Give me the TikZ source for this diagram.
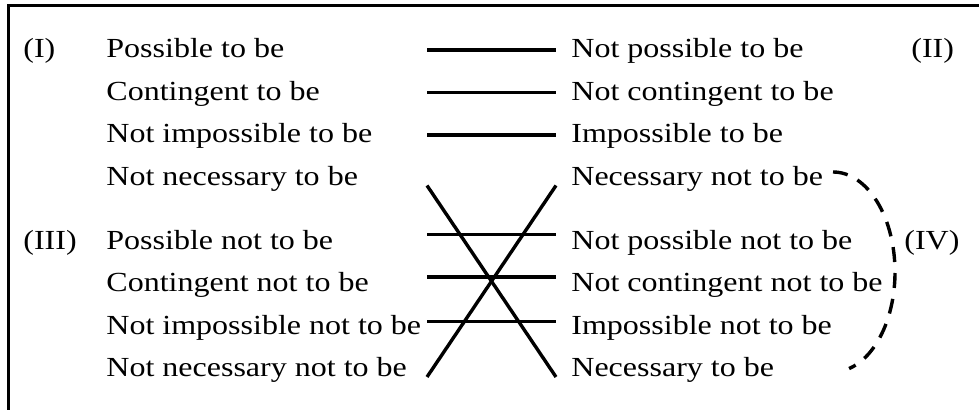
\documentclass[tikz,border=0pt]{standalone}
\usepackage{fontspec}
\setmainfont{Liberation Serif}[FakeStretch=1.16]
\usepackage{tikz}
\usetikzlibrary{positioning,calc}
\tikzset{
  rowtext/.style={anchor=base west,inner sep=0pt,
    font=\fontsize{13.8}{17}\selectfont},
  barline/.style={line width=1.7pt,draw=black},
  dashlink/.style={line width=1.7pt,draw=black,dash pattern=on 7.5pt off 5.5pt},
  frameline/.style={line width=1.5pt,draw=black},
}

\begin{document}
\begin{tikzpicture}[x=0.5pt,y=-0.5pt]
  \useasboundingbox (0,0) rectangle (979,410);
  \draw[frameline] (8.5,410) -- (8.5,6) -- (979,6);
  \coordinate (colL) at (427,0);
  \coordinate (colR) at (556,0);
  \coordinate (arcTop) at (833,172);
  % group labels
  \node[rowtext] (labI)   at (23,58)    {(I)};
  \node[rowtext] (labII)  at (911,58)   {(II)};
  \node[rowtext] (labIII) at (23,249.5) {(III)};
  \node[rowtext] (labIV)  at (904,249.5) {(IV)};
  % left column
  \node[rowtext] (l1) at (106,58)    {Possible to be};
  \node[rowtext] (l2) at (106,100.5) {Contingent to be};
  \node[rowtext] (l3) at (106,143)   {Not impossible to be};
  \node[rowtext] (l4) at (106,185.5) {Not necessary to be};
  \node[rowtext] (l5) at (106,249.5) {Possible not to be};
  \node[rowtext] (l6) at (106,292)   {Contingent not to be};
  \node[rowtext] (l7) at (106,334.5) {Not impossible not to be};
  \node[rowtext] (l8) at (106,377)   {Not necessary not to be};
  % right column
  \node[rowtext] (r1) at (571,58)    {Not possible to be};
  \node[rowtext] (r2) at (571,100.5) {Not contingent to be};
  \node[rowtext] (r3) at (571,143)   {Impossible to be};
  \node[rowtext] (r4) at (571,185.5) {Necessary not to be};
  \node[rowtext] (r5) at (571,249.5) {Not possible not to be};
  \node[rowtext] (r6) at (571,292)   {Not contingent not to be};
  \node[rowtext] (r7) at (571,334.5) {Impossible not to be};
  \node[rowtext] (r8) at (571,377)   {Necessary to be};
  % bars
  \draw[barline] ($(l1.base -| colL)+(0,-8)$) -- ($(r1.base -| colR)+(0,-8)$);
  \draw[barline] ($(l2.base -| colL)+(0,-8)$) -- ($(r2.base -| colR)+(0,-8)$);
  \draw[barline] ($(l3.base -| colL)+(0,-8)$) -- ($(r3.base -| colR)+(0,-8)$);
  \draw[barline] ($(l5.base -| colL)+(0,-15)$) -- ($(r5.base -| colR)+(0,-15)$);
  \draw[barline] ($(l6.base -| colL)+(0,-15)$) -- ($(r6.base -| colR)+(0,-15)$);
  \draw[barline] ($(l7.base -| colL)+(0,-13)$) -- ($(r7.base -| colR)+(0,-13)$);
  % cross
  \draw[barline] (colL |- r4.base) -- (colR |- r8.base);
  \draw[barline] (colL |- r8.base) -- (colR |- r4.base);
  % dashed bracket
  \draw[dashlink] (arcTop) arc[start angle=-90,end angle=75,x radius=62,y radius=100];
\end{tikzpicture}
\end{document}
